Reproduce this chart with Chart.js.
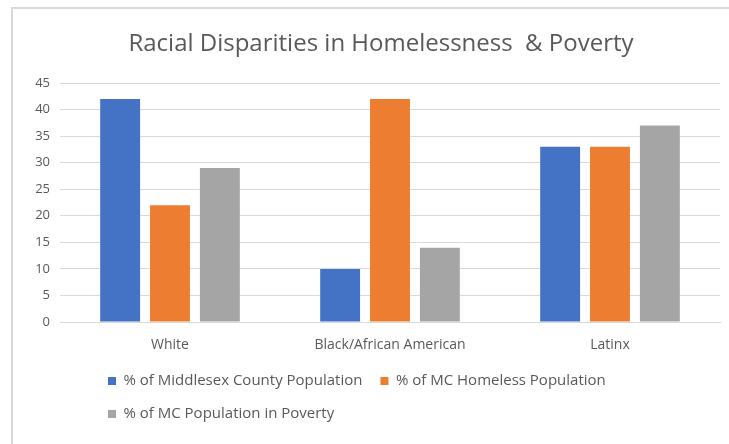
<!DOCTYPE html>
<html>
<head>
<meta charset="utf-8">
<script src="https://cdn.jsdelivr.net/npm/chart.js@4"></script>
<style>
    html, body { margin: 0; background: #fff; overflow: hidden; width: 729px; height: 444px; }
    #frame { position: absolute; left: 11px; top: 7px; width: 716px; height: 435px; border-left: 2px solid #d9d9d9; border-top: 2px solid #d9d9d9; }
    #wrap { position: absolute; left: 0; top: 0; width: 729px; height: 444px; }
</style>
</head>
<body>
<div id="frame"></div>
<div id="wrap"><canvas id="graficoDisparidades"></canvas></div>
<script>
var categorias = ["White", "Black/African American", "Latinx"];
var populacaoCondado = [42, 10, 33];
var populacaoSemTeto = [22, 42, 33];
var populacaoPobreza = [29, 14, 37];
var nomesSeries = ["% of Middlesex County Population", "% of MC Homeless Population", "% of MC Population in Poverty"];

var corTexto = "#595959";
var fonte = "'Open Sans', sans-serif";

// empurra a legenda e o título para a direita, como no original
var ajustaPosicoes = {
    id: "ajustaPosicoes",
    afterLayout: function (chart) {
        chart.legend.left += 60;
        if (chart.titleBlock) {
            chart.titleBlock.left += 6;
            chart.titleBlock.right += 6;
        }
    }
};

document.addEventListener("DOMContentLoaded", function () {
    var ctx = document.getElementById("graficoDisparidades").getContext("2d");

    new Chart(ctx, {
        type: "bar",
        data: {
            labels: categorias,
            datasets: [{
                label: nomesSeries[0],
                data: populacaoCondado,
                backgroundColor: "#4472c4"
            }, {
                label: nomesSeries[1],
                data: populacaoSemTeto,
                backgroundColor: "#ed7d31"
            }, {
                label: nomesSeries[2],
                data: populacaoPobreza,
                backgroundColor: "#a5a5a5"
            }]
        },
        plugins: [ajustaPosicoes],
        options: {
            responsive: true,
            maintainAspectRatio: false,
            animation: false,
            categoryPercentage: 0.68,
            barPercentage: 0.8,
            layout: {
                padding: { left: 30, right: 9, top: 0, bottom: 12.5 }
            },
            scales: {
                x: {
                    grid: { display: false },
                    border: { color: "#d9d9d9" },
                    ticks: { color: corTexto, padding: 7, font: { family: fonte, size: 14 } },
                    afterFit: function (scale) { scale.height = 33.5; }
                },
                y: {
                    min: 0,
                    max: 45,
                    ticks: { stepSize: 5, color: corTexto, padding: 10, font: { family: fonte, size: 13 } },
                    grid: { color: "#d9d9d9", drawTicks: false },
                    border: { display: false },
                    afterFit: function (scale) { scale.width = 30; }
                }
            },
            plugins: {
                title: {
                    display: true,
                    text: "Racial Disparities in Homelessness  & Poverty",
                    color: corTexto,
                    font: { family: fonte, size: 24, weight: "normal" },
                    padding: { top: 30, bottom: 24.2 }
                },
                legend: {
                    position: "bottom",
                    align: "start",
                    labels: {
                        boxWidth: 8,
                        boxHeight: 8,
                        padding: 18,
                        color: corTexto,
                        font: { family: fonte, size: 15 }
                    }
                },
                tooltip: { enabled: false }
            }
        }
    });
});
</script>
</body>
</html>
